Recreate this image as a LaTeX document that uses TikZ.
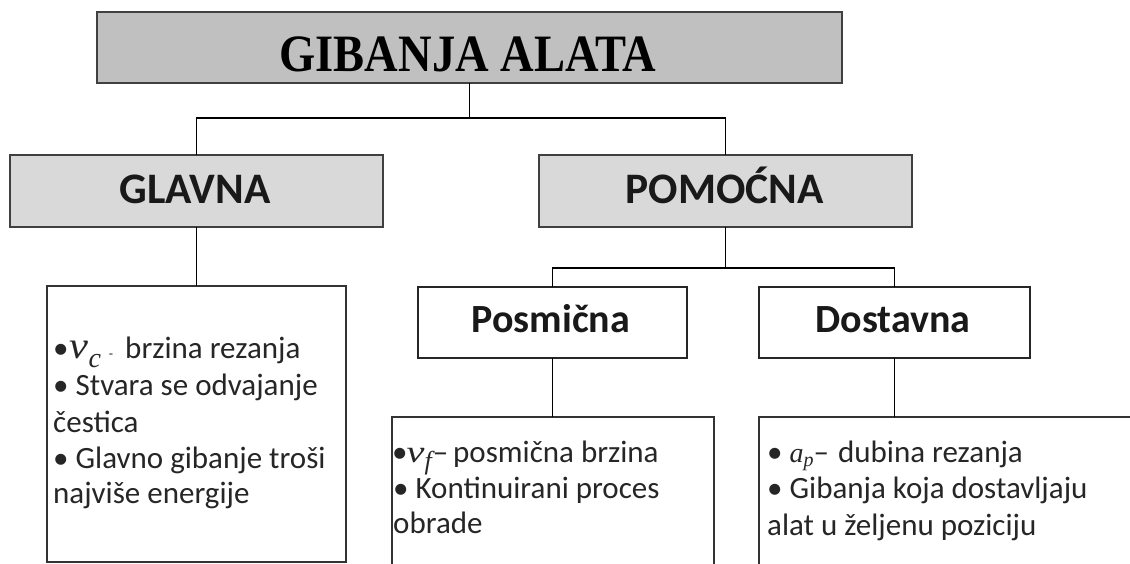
\documentclass[tikz,border=0pt]{standalone}
\usepackage{fontspec}
\usepackage{graphicx}
\setmainfont{Carlito}
\newfontfamily\titlefont{Liberation Serif}
\newfontfamily\mathvarfont{Liberation Serif}
% #1 size of letter, #2 letter, #3 size of subscript, #4 subscript, #5 lowering, #6 x-stretch of letter
\newcommand\mvar[6]{{\fontsize{#1}{#1}\selectfont\mathvarfont\itshape\scalebox{#6}[1]{#2}}\raisebox{#5}{\fontsize{#3}{#3}\selectfont\mathvarfont\itshape #4}}
\definecolor{topfill}{HTML}{C0C0C0}
\definecolor{midfill}{HTML}{D9D9D9}
\definecolor{edgegray}{HTML}{404040}
\begin{document}
\begin{tikzpicture}[x=1pt,y=-1pt,
  hdrbox/.style={draw=edgegray,line width=1.7pt,inner sep=0pt,outer sep=0pt},
  topbox/.style={hdrbox,fill=topfill},
  midbox/.style={hdrbox,fill=midfill},
  subbox/.style={hdrbox,draw=black!85,line width=1.4pt,fill=white},
  infobox/.style={draw=black!80,line width=1.3pt,inner sep=0pt,outer sep=0pt,fill=white},
  link/.style={line width=1.1pt,black},
  titletext/.style={anchor=base,inner sep=0pt,font=\titlefont\bfseries\fontsize{50}{55}\selectfont},
  bigtext/.style={anchor=base,inner sep=0pt,font=\bfseries\fontsize{43.5}{50}\selectfont,text=black!90},
  medtext/.style={anchor=base,inner sep=0pt,font=\bfseries\fontsize{40}{46}\selectfont,text=black!90},
  infoline/.style={anchor=base west,inner sep=0pt,font=\fontsize{31}{36}\selectfont,text=black!85}]
\useasboundingbox (0,0) rectangle (1130,563);
\clip (0,0) rectangle (1130,563);
% boxes
\node[topbox,minimum width=745pt,minimum height=71pt] (top) at (469.5,47.5) {};
\node[midbox,minimum width=373pt,minimum height=72pt] (glavna) at (196.5,191) {};
\node[midbox,minimum width=373pt,minimum height=72pt] (pomocna) at (725.5,191) {};
\node[subbox,minimum width=269pt,minimum height=71pt] (posmicna) at (552.5,322.5) {};
\node[subbox,minimum width=271pt,minimum height=71pt] (dostavna) at (894.5,322.5) {};
\node[infobox,minimum width=299pt,minimum height=276pt] (gc) at (196.5,424) {};
\node[infobox,minimum width=322pt,minimum height=183pt] (pc) at (553,508.5) {};
\node[infobox,minimum width=401pt,minimum height=183pt] (dc) at (959.5,508.5) {};
% junctions
\coordinate (j1) at (469.5,118);
\coordinate (j2) at (725.5,268);
% connectors
\draw[link] (top.south) -- (j1);
\draw[link] (glavna.north) |- (j1) -| (pomocna.north);
\draw[link] (pomocna.south) -- (j2);
\draw[link] (posmicna.north) |- (j2) -| (dostavna.north);
\draw[link] (glavna.south) -- (gc.north);
\draw[link] (posmicna.south) -- (posmicna.south |- pc.north);
\draw[link] (dostavna.south) -- (dostavna.south |- dc.north);
% headings
\node[titletext] (ttitle) at (468,71) {\scalebox{0.93}[1.05]{GIBANJA ALATA}};
\node[bigtext] (tglavna) at (195,203) {GLAVNA};
\node[bigtext] (tpomocna) at (724.5,203) {POMOĆNA};
\node[medtext] (tposmicna) at (551,332) {Posmična};
\node[medtext] (tdostavna) at (893,332) {Dostavna};
% glavna content
\node[infoline] (g1) at (53,358) {•\hspace{1pt}\mvar{38}{v}{28}{c}{-9pt}{1.12}\hspace{8pt}{\fontsize{14}{14}\selectfont -}\hspace{12pt}brzina rezanja};
\node[infoline] (g2) at (53,395) {• Stvara se odvajanje};
\node[infoline] (g3) at (53,432) {čestica};
\node[infoline] (g4) at (53,468) {• Glavno gibanje troši};
\node[infoline] (g5) at (53,503) {najviše energije};
% posmicna content
\node[infoline] (p1) at (392,462) {•\hspace{-1pt}\mvar{31}{v}{26}{f}{-7pt}{1.3}\hspace{1pt}–\hspace{5pt}posmična brzina};
\node[infoline] (p2) at (393,498) {• Kontinuirani proces};
\node[infoline] (p3) at (393,533) {obrade};
% dostavna content
\node[infoline] (d1) at (767,462) {• \mvar{28}{a}{20}{p}{-4pt}{1}–\hspace{9pt}dubina rezanja};
\node[infoline] (d2) at (767,498) {• Gibanja koja dostavljaju};
\node[infoline] (d3) at (767,535) {alat u željenu poziciju};
\end{tikzpicture}
\end{document}
